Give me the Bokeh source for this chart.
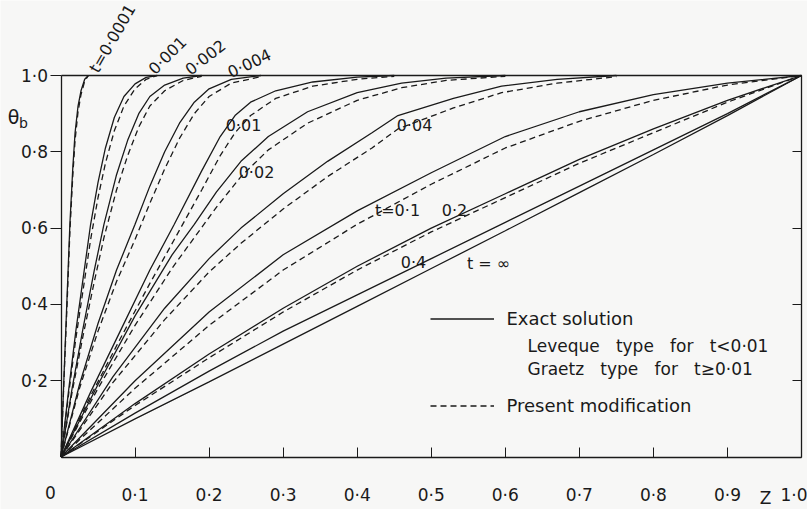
from bokeh.plotting import figure
from bokeh.models import Range1d, LinearAxis, FixedTicker, Label, Legend, LegendItem
from bokeh.embed import file_html
from bokeh.resources import INLINE

# ---------------- data ----------------
T0001_Z = [0, 0.004, 0.008, 0.012, 0.016, 0.019, 0.023, 0.027, 0.032, 0.037]
T0001_EXACT = [0, 0.21, 0.41, 0.61, 0.76, 0.85, 0.92, 0.96, 0.99, 1.0]
T0001_MOD = [0, 0.20, 0.39, 0.59, 0.74, 0.83, 0.905, 0.95, 0.985, 1.0]

T001_Z = [0, 0.010, 0.020, 0.030, 0.040, 0.050, 0.060, 0.072, 0.085, 0.100, 0.115, 0.130]
T001_EXACT = [0, 0.17, 0.33, 0.47, 0.61, 0.72, 0.81, 0.89, 0.945, 0.978, 0.995, 1.0]
T001_MOD = [0, 0.16, 0.31, 0.44, 0.57, 0.68, 0.77, 0.855, 0.92, 0.965, 0.99, 1.0]

T002_Z = [0, 0.015, 0.030, 0.045, 0.058, 0.075, 0.090, 0.105, 0.120, 0.140, 0.165, 0.190]
T002_EXACT = [0, 0.18, 0.34, 0.49, 0.61, 0.74, 0.83, 0.90, 0.945, 0.975, 0.993, 1.0]
T002_MOD = [0, 0.17, 0.32, 0.46, 0.575, 0.70, 0.79, 0.865, 0.92, 0.96, 0.987, 0.998]

T004_Z = [0, 0.025, 0.050, 0.075, 0.100, 0.120, 0.140, 0.160, 0.180, 0.200, 0.230, 0.270]
T004_EXACT = [0, 0.19, 0.35, 0.49, 0.61, 0.71, 0.80, 0.875, 0.93, 0.965, 0.99, 1.0]
T004_MOD = [0, 0.18, 0.33, 0.46, 0.57, 0.665, 0.755, 0.835, 0.90, 0.945, 0.98, 0.997]

T01_Z = [0, 0.040, 0.080, 0.120, 0.153, 0.190, 0.215, 0.235, 0.256, 0.290, 0.340, 0.400, 0.450]
T01_EXACT = [0, 0.17, 0.33, 0.49, 0.61, 0.75, 0.84, 0.895, 0.93, 0.96, 0.983, 0.996, 1.0]
T01_MOD = [0, 0.16, 0.31, 0.455, 0.57, 0.70, 0.79, 0.85, 0.895, 0.94, 0.972, 0.99, 0.998]

T02_Z = [0, 0.050, 0.100, 0.150, 0.180, 0.210, 0.243, 0.280, 0.333, 0.400, 0.460, 0.520, 0.600]
T02_EXACT = [0, 0.19, 0.37, 0.53, 0.61, 0.695, 0.775, 0.84, 0.905, 0.955, 0.98, 0.993, 1.0]
T02_MOD = [0, 0.18, 0.345, 0.495, 0.575, 0.655, 0.735, 0.805, 0.875, 0.935, 0.968, 0.987, 0.998]

T04_Z = [0, 0.070, 0.140, 0.200, 0.243, 0.300, 0.360, 0.420, 0.455, 0.530, 0.595, 0.670, 0.750]
T04_EXACT = [0, 0.21, 0.39, 0.52, 0.60, 0.69, 0.775, 0.85, 0.895, 0.94, 0.972, 0.99, 1.0]
T04_MOD = [0, 0.195, 0.36, 0.485, 0.56, 0.65, 0.735, 0.81, 0.86, 0.915, 0.955, 0.98, 0.997]

Z_FULL = [0, 0.1, 0.2, 0.3, 0.4, 0.5, 0.6, 0.7, 0.8, 0.9, 1.0]
T1_EXACT = [0, 0.20, 0.38, 0.53, 0.645, 0.745, 0.84, 0.905, 0.95, 0.98, 1.0]
T1_MOD = [0, 0.18, 0.345, 0.49, 0.61, 0.715, 0.81, 0.88, 0.935, 0.975, 1.0]
T2_EXACT = [0, 0.14, 0.27, 0.39, 0.50, 0.60, 0.69, 0.78, 0.86, 0.935, 1.0]
T2_MOD = [0, 0.135, 0.26, 0.38, 0.49, 0.59, 0.68, 0.77, 0.85, 0.93, 1.0]
T4_EXACT = [0, 0.115, 0.225, 0.33, 0.425, 0.52, 0.615, 0.71, 0.805, 0.90, 1.0]
TINF_EXACT = [0, 0.10, 0.197, 0.296, 0.395, 0.494, 0.593, 0.693, 0.793, 0.895, 1.0]

X_TICKS = [0, 0.1, 0.2, 0.3, 0.4, 0.5, 0.6, 0.7, 0.8, 0.9, 1.0]
X_LABELS = ["", "0·1", "0·2", "0·3", "0·4", "0·5", "0·6", "0·7", "0·8", "0·9", "1·0"]
Y_TICKS = [0.2, 0.4, 0.6, 0.8, 1.0]
Y_LABELS = ["0·2", "0·4", "0·6", "0·8", "1·0"]

FONT = "DejaVu Sans"
INK = "#1a1a1a"
BG = "#f7f7f6"

# the reference draws Z=0..1 between x=60.5 and 801 px, theta=0..1 between y=456.5 and 75 px
PX_X0, PX_PER_Z = 60.5, 740.5
PX_Y0, PX_PER_T = 456.5, 381.5
W, H = 807, 509

p = figure(width=W, height=H, output_backend="svg", toolbar_location=None,
           x_range=Range1d(-PX_X0 / PX_PER_Z, (W - PX_X0) / PX_PER_Z),
           y_range=Range1d(-(H - PX_Y0) / PX_PER_T, PX_Y0 / PX_PER_T),
           min_border=0, background_fill_color=BG, border_fill_color=BG)
p.grid.visible = False
p.outline_line_color = None

xa = p.xaxis[0]
xa.fixed_location = 0
xa.bounds = (0, 1)
xa.ticker = FixedTicker(ticks=X_TICKS)
xa.major_label_overrides = dict(zip(X_TICKS, X_LABELS))
xa.major_tick_in = 10
xa.major_tick_out = 0
xa.minor_tick_line_color = None
xa.major_label_standoff = 28
xa.major_label_text_font = FONT
xa.major_label_text_font_size = "17px"
xa.major_label_text_color = INK
xa.axis_line_color = INK
xa.axis_line_width = 1.3
xa.major_tick_line_color = INK

ya = p.yaxis[0]
ya.fixed_location = 0
ya.bounds = (0, 1)
ya.ticker = FixedTicker(ticks=Y_TICKS)
ya.major_label_overrides = dict(zip(Y_TICKS, Y_LABELS))
ya.major_tick_in = 0
ya.major_tick_out = 11
ya.minor_tick_line_color = None
ya.major_label_standoff = 2
ya.major_label_text_font = FONT
ya.major_label_text_font_size = "17px"
ya.major_label_text_color = INK
ya.axis_line_color = INK
ya.axis_line_width = 1.3
ya.major_tick_line_color = INK

ra = LinearAxis(fixed_location=1, bounds=(0, 1), ticker=FixedTicker(ticks=Y_TICKS),
                major_tick_in=9, major_tick_out=0, minor_tick_line_color=None,
                major_label_overrides={t: "" for t in Y_TICKS}, major_label_standoff=0,
                axis_line_color=INK, axis_line_width=1.3, major_tick_line_color=INK)
p.add_layout(ra, "right")

ta = LinearAxis(fixed_location=1, bounds=(0, 1), ticker=FixedTicker(ticks=[]),
                major_tick_in=0, major_tick_out=0, minor_tick_line_color=None,
                axis_line_color=INK, axis_line_width=1.3)
p.add_layout(ta, "above")

LW = 1.3
DASH = "6 4"
exact_sets = [(T0001_Z, T0001_EXACT), (T001_Z, T001_EXACT), (T002_Z, T002_EXACT),
              (T004_Z, T004_EXACT), (T01_Z, T01_EXACT), (T02_Z, T02_EXACT),
              (T04_Z, T04_EXACT), (Z_FULL, T1_EXACT), (Z_FULL, T2_EXACT),
              (Z_FULL, T4_EXACT), (Z_FULL, TINF_EXACT)]
mod_sets = [(T0001_Z, T0001_MOD), (T001_Z, T001_MOD), (T002_Z, T002_MOD),
            (T004_Z, T004_MOD), (T01_Z, T01_MOD), (T02_Z, T02_MOD),
            (T04_Z, T04_MOD), (Z_FULL, T1_MOD), (Z_FULL, T2_MOD)]

r_exact = None
for zs, ts in exact_sets:
    r = p.line(zs, ts, line_color=INK, line_width=LW)
    r_exact = r_exact or r
r_mod = None
for zs, ts in mod_sets:
    r = p.line(zs, ts, line_color=INK, line_width=LW, line_dash=DASH)
    r_mod = r_mod or r


def label(text, X, Y, size=16, angle=0, align="center"):
    # X, Y: position in the reference picture's pixels, converted to data units
    p.add_layout(Label(x=(X - PX_X0) / PX_PER_Z, y=(PX_Y0 - Y) / PX_PER_T,
                       text=text, text_font=FONT, text_font_size=f"{size}px",
                       text_color=INK, text_align=align, text_baseline="middle",
                       angle=angle, angle_units="deg"))


label("t=0·0001", 112, 38, angle=60)
label("0·001", 167, 55, angle=45)
label("0·002", 205, 57, angle=38)
label("0·004", 249, 63, angle=25)
label("0·01", 243, 125)
label("0·02", 256, 172)
label("0·04", 414, 125)
label("t=0·1", 397, 210)
label("0·2", 454, 210)
label("0·4", 413, 262)
label("t = ∞", 488, 263)
label("0", 50, 492, size=17)
label("Z", 765, 497, size=17)
label("θ", 13, 116, size=19)
label("b", 23, 122, size=14)
label("Leveque\u00a0\u00a0\u00a0type\u00a0\u00a0\u00a0for\u00a0\u00a0\u00a0t<0·01", 527, 345, size=17, align="left")
label("Graetz\u00a0\u00a0\u00a0type\u00a0\u00a0\u00a0for\u00a0\u00a0\u00a0t≥0·01", 527, 368, size=17, align="left")

legend = Legend(items=[LegendItem(label="Exact solution", renderers=[r_exact]),
                       LegendItem(label="Present modification", renderers=[r_mod])],
                location=(429.5, H - 416), orientation="vertical", glyph_width=64, glyph_height=21,
                label_height=21, spacing=66, padding=0, margin=0, label_standoff=13,
                border_line_alpha=0, background_fill_alpha=0,
                label_text_font=FONT, label_text_font_size="18px", label_text_color=INK)
p.add_layout(legend)

open("out.html", "w").write(file_html(p, INLINE))
